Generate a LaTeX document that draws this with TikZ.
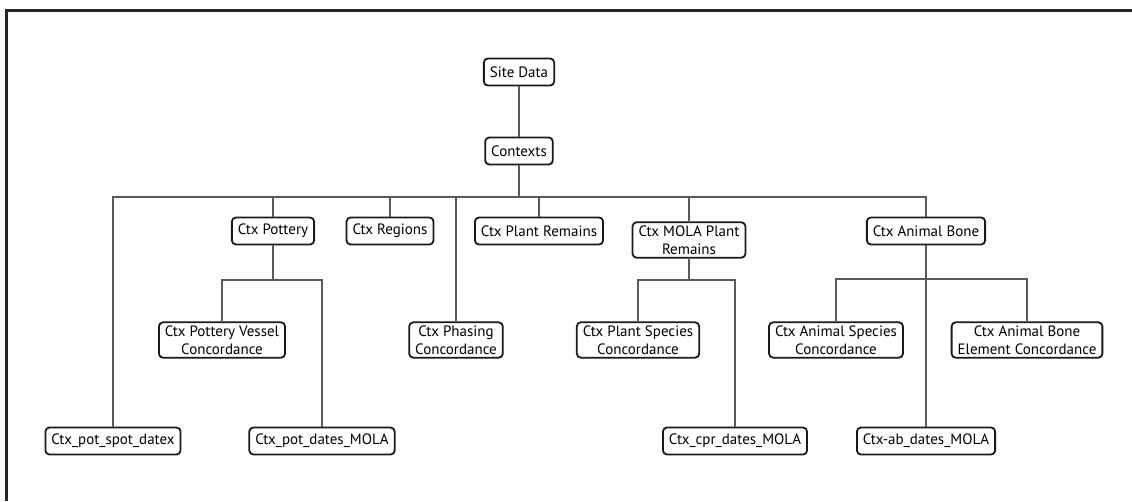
\documentclass[tikz,border=0pt]{standalone}
\usepackage{fontspec}
\setmainfont{PT Sans}
\usepackage{tikz}
\usetikzlibrary{calc,positioning}
\tikzset{
  caja/.style={draw=black!90,line width=1.8pt,rounded corners=4pt,fill=white,
    align=center,inner xsep=6pt,inner ysep=3pt,minimum height=27pt,
    font=\fontsize{15}{18.5}\selectfont},
  rama/.style={draw=black!65,line width=1.4pt},
  marco/.style={draw=black!85,line width=3pt}
}

\begin{document}
\begin{tikzpicture}[x=1pt,y=-1pt]
\useasboundingbox (0,0) rectangle (1132,501);
\fill[white] (0,0) rectangle (1132,501);
% marco (solo arriba e izquierda)
\draw[marco] (1132,10) -- (6,10) -- (6,501);
% raiz
\node[caja] (site) at (519,72) {Site Data};
\node[caja] (ctx) at (519,151) {Contexts};
% segundo nivel
\node[caja] (pot) at (273,231) {Ctx Pottery};
\node[caja] (reg) at (390,231) {Ctx Regions};
\node[caja] (plant) at (539,231) {Ctx Plant Remains};
\node[caja] (mola) at (689,240) {Ctx MOLA Plant\\Remains};
\node[caja] (bone) at (926,231) {Ctx Animal Bone};
% concordancias
\node[caja] (vessel) at (222,340) {Ctx Pottery Vessel\\Concordance};
\node[caja] (phas) at (456,340) {Ctx Phasing\\Concordance};
\node[caja] (species) at (638,340) {Ctx Plant Species\\Concordance};
\node[caja] (asp) at (836,340) {Ctx Animal Species\\Concordance};
\node[caja] (elem) at (1027,340) {Ctx Animal Bone\\Element Concordance};
% fechas
\node[caja] (spot) at (113,441) {Ctx\_pot\_spot\_datex};
\node[caja] (potmola) at (322,441) {Ctx\_pot\_dates\_MOLA};
\node[caja] (cpr) at (735,441) {Ctx\_cpr\_dates\_MOLA};
\node[caja] (abmola) at (926,441) {Ctx-ab\_dates\_MOLA};
% barras horizontales
\coordinate (bus) at (0,197);
\coordinate (buspot) at (0,280);
\coordinate (busmola) at (0,280);
\coordinate (busbone) at (0,279);
% conexiones
\draw[rama] (site) -- (ctx);
\foreach \h in {spot,pot,reg,phas,plant,mola,bone}
  \draw[rama] (ctx.south) -- (ctx.south |- bus) -| (\h.north);
\foreach \h in {vessel,potmola}
  \draw[rama] (pot.south) -- (pot.south |- buspot) -| (\h.north);
\foreach \h in {species,cpr}
  \draw[rama] (mola.south) -- (mola.south |- busmola) -| (\h.north);
\foreach \h in {asp,elem,abmola}
  \draw[rama] (bone.south) -- (bone.south |- busbone) -| (\h.north);
\end{tikzpicture}
\end{document}
